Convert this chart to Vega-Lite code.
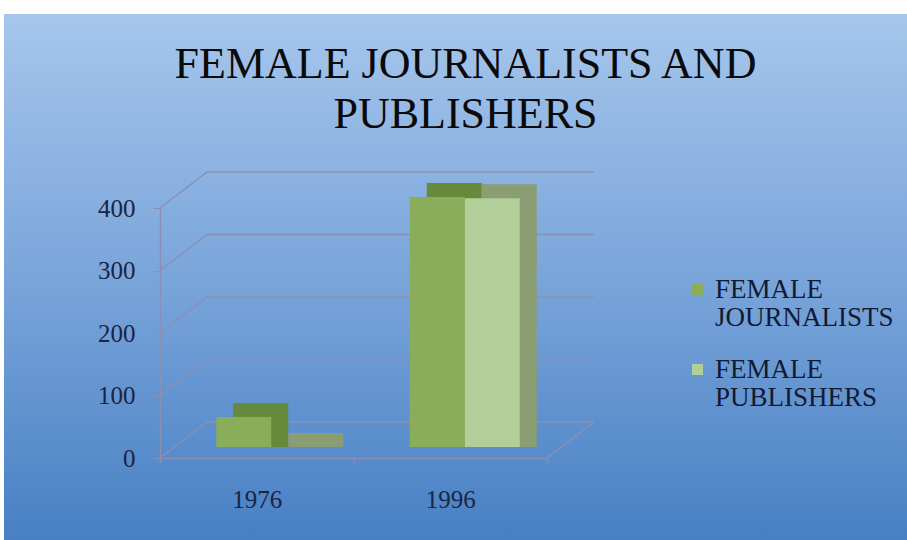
{
  "$schema": "https://vega.github.io/schema/vega-lite/v6.json",
  "width": 903,
  "height": 526,
  "autosize": {"type": "none"},
  "padding": {"left": 4, "top": 14, "right": 0, "bottom": 0},
  "background": "#ffffff",
  "view": {
    "stroke": null,
    "fill": {
      "gradient": "linear",
      "x1": 0, "y1": 0, "x2": 0, "y2": 1,
      "stops": [
        {"offset": 0, "color": "#a6c6ec"},
        {"offset": 0.5, "color": "#7aa5da"},
        {"offset": 1, "color": "#4880c4"}
      ]
    }
  },
  "config": {
    "axisY": {
      "orient": "left",
      "offset": -156,
      "title": null,
      "grid": false,
      "labelFont": "Liberation Serif",
      "labelFontSize": 25,
      "labelColor": "#1b2440",
      "labelPadding": 18,
      "tickSize": 7,
      "tickColor": "#8a90b2",
      "domainColor": "#8a90b2",
      "domainWidth": 1.5
    }
  },
  "title": {
    "text": ["FEMALE JOURNALISTS AND", "PUBLISHERS"],
    "font": "Liberation Serif",
    "fontSize": 44,
    "fontWeight": "normal",
    "color": "#0a0a0a",
    "lineHeight": 50,
    "anchor": "middle",
    "frame": "group",
    "offset": -123,
    "dx": 10
  },
  "datasets": {
    "bars": [
      {"year": "1976", "series": "FEMALE JOURNALISTS", "value": 48},
      {"year": "1976", "series": "FEMALE PUBLISHERS", "value": 0},
      {"year": "1996", "series": "FEMALE JOURNALISTS", "value": 400},
      {"year": "1996", "series": "FEMALE PUBLISHERS", "value": 398}
    ],
    "levels": [
      {"v": 0}, {"v": 100}, {"v": 200}, {"v": 300}, {"v": 400}
    ],
    "edges": [
      {"u": 0, "v": 0}, {"u": 0, "v": 100}, {"u": 0, "v": 200},
      {"u": 0, "v": 300}, {"u": 0, "v": 400}, {"u": 1, "v": 0}
    ]
  },
  "resolve": {"scale": {"x": "independent"}, "axis": {"x": "independent"}},
  "layer": [
    {
      "layer": [
        {
          "data": {"name": "levels"},
          "mark": {"type": "rule", "color": "#8a90b2", "strokeWidth": 1.5, "xOffset": 47, "x2Offset": 47, "yOffset": -36},
          "encoding": {
            "x": {"datum": 0, "type": "quantitative", "scale": {"domain": [0, 1], "range": [156, 543]}, "axis": null},
            "x2": {"datum": 1},
            "y": {"field": "v", "type": "quantitative", "axis": {"values": [0, 100, 200, 300, 400]}}
          }
        },
        {
          "data": {"name": "edges"},
          "mark": {"type": "rule", "color": "#8a90b2", "strokeWidth": 1.5, "x2Offset": 47, "y2Offset": -36},
          "encoding": {
            "x": {"field": "u", "type": "quantitative", "scale": {"domain": [0, 1], "range": [156, 543]}, "axis": null},
            "x2": {"field": "u"},
            "y": {"field": "v", "type": "quantitative", "axis": {"values": [0, 100, 200, 300, 400]}},
            "y2": {"field": "v"}
          }
        }
      ]
    },
    {
      "data": {"name": "bars"},
      "encoding": {
        "x": {
          "field": "year",
          "type": "nominal",
          "sort": null,
          "scale": {"domain": ["1976", "1996"], "range": [156, 543], "paddingInner": 0, "paddingOuter": 0},
          "axis": {
            "orient": "bottom",
            "offset": -82,
            "title": null,
            "labelAngle": 0,
            "labelFont": "Liberation Serif",
            "labelFontSize": 25,
            "labelColor": "#1b2440",
            "labelPadding": 24,
            "tickBand": "extent",
            "tickSize": 5,
            "tickColor": "#8a90b2",
            "domainColor": "#8a90b2",
            "domainWidth": 1.5
          }
        },
        "y": {
          "field": "value",
          "type": "quantitative",
          "stack": null,
          "scale": {"domain": [0, 400], "range": [444, 194], "nice": false, "zero": true},
          "axis": {"values": [0, 100, 200, 300, 400]}
        },
        "y2": {"datum": 0}
      },
      "layer": [
        {
          "transform": [{"filter": "datum.series === 'FEMALE JOURNALISTS'"}],
          "mark": {"type": "bar", "width": 55, "xOffset": 4, "yOffset": -25, "y2Offset": -11, "color": "#658a3c"}
        },
        {
          "transform": [{"filter": "datum.series === 'FEMALE PUBLISHERS'"}],
          "mark": {"type": "bar", "width": 55, "xOffset": 59, "yOffset": -25, "y2Offset": -11, "color": "#8a9d73"}
        },
        {
          "transform": [{"filter": "datum.series === 'FEMALE JOURNALISTS'"}],
          "mark": {"type": "bar", "width": 55, "xOffset": -13, "yOffset": -11, "y2Offset": -11},
          "encoding": {
            "color": {
              "field": "series",
              "type": "nominal",
              "scale": {"domain": ["FEMALE JOURNALISTS", "FEMALE PUBLISHERS"], "range": ["#8aad5b", "#b3cf99"]},
              "legend": {
                "orient": "none",
                "legendX": 680,
                "legendY": 262,
                "title": null,
                "padding": 0,
                "labelFont": "Liberation Serif",
                "labelFontSize": 27,
                "labelColor": "#111a33",
                "labelLimit": 300,
                "labelOffset": 4,
                "rowPadding": 24,
                "symbolType": "square",
                "symbolSize": 121,
                "symbolStrokeWidth": 0,
                "labelExpr": "split(datum.label, ' ')",
                "encode": {"labels": {"update": {"lineHeight": {"value": 28}}}}
              }
            }
          }
        },
        {
          "transform": [{"filter": "datum.series === 'FEMALE PUBLISHERS'"}],
          "mark": {"type": "bar", "width": 55, "xOffset": 42, "yOffset": -11, "y2Offset": -11},
          "encoding": {
            "color": {"field": "series", "type": "nominal"}
          }
        }
      ]
    }
  ]
}
